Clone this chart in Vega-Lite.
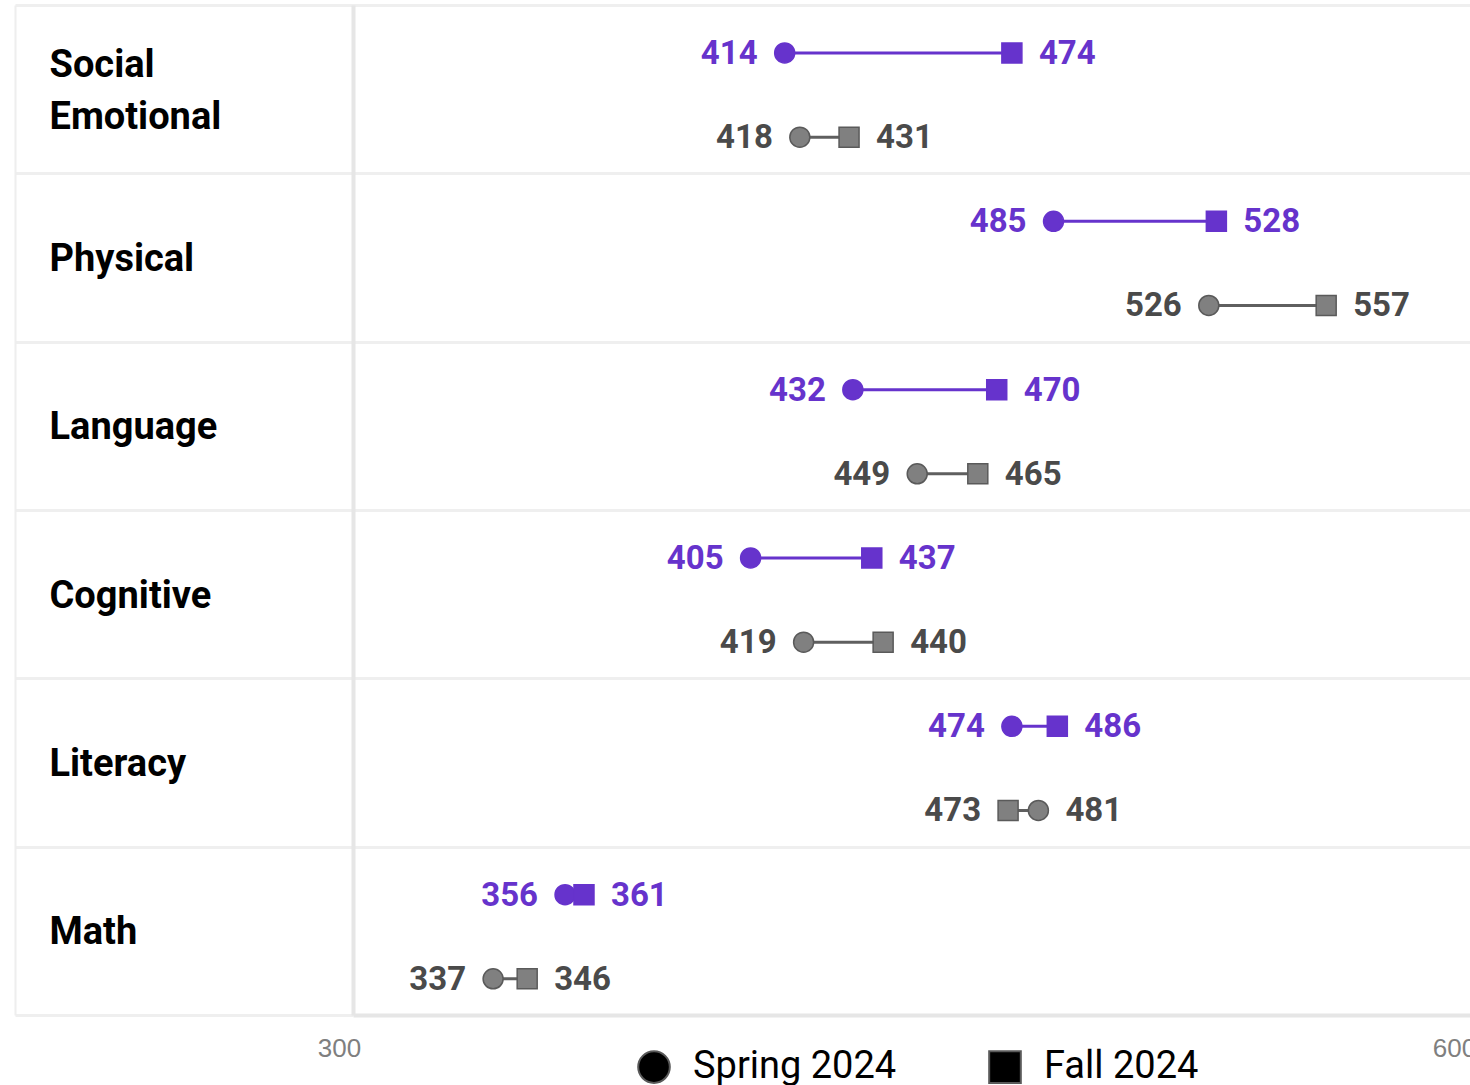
{
  "$schema": "https://vega.github.io/schema/vega-lite/v6.json",
  "width": 1136,
  "height": 1010,
  "padding": {"left": 353, "top": 5, "right": 0, "bottom": 75},
  "autosize": {"type": "none"},
  "background": "white",
  "config": {
    "view": {"stroke": "#eeeeee", "strokeWidth": 2},
    "font": "Roboto"
  },
  "data": {
    "values": [
      {"category": "Social Emotional", "group": "Group A", "season": "Spring 2024", "score": 414},
      {"category": "Social Emotional", "group": "Group A", "season": "Fall 2024", "score": 474},
      {"category": "Social Emotional", "group": "Group B", "season": "Spring 2024", "score": 418},
      {"category": "Social Emotional", "group": "Group B", "season": "Fall 2024", "score": 431},
      {"category": "Physical", "group": "Group A", "season": "Spring 2024", "score": 485},
      {"category": "Physical", "group": "Group A", "season": "Fall 2024", "score": 528},
      {"category": "Physical", "group": "Group B", "season": "Spring 2024", "score": 526},
      {"category": "Physical", "group": "Group B", "season": "Fall 2024", "score": 557},
      {"category": "Language", "group": "Group A", "season": "Spring 2024", "score": 432},
      {"category": "Language", "group": "Group A", "season": "Fall 2024", "score": 470},
      {"category": "Language", "group": "Group B", "season": "Spring 2024", "score": 449},
      {"category": "Language", "group": "Group B", "season": "Fall 2024", "score": 465},
      {"category": "Cognitive", "group": "Group A", "season": "Spring 2024", "score": 405},
      {"category": "Cognitive", "group": "Group A", "season": "Fall 2024", "score": 437},
      {"category": "Cognitive", "group": "Group B", "season": "Spring 2024", "score": 419},
      {"category": "Cognitive", "group": "Group B", "season": "Fall 2024", "score": 440},
      {"category": "Literacy", "group": "Group A", "season": "Spring 2024", "score": 474},
      {"category": "Literacy", "group": "Group A", "season": "Fall 2024", "score": 486},
      {"category": "Literacy", "group": "Group B", "season": "Spring 2024", "score": 481},
      {"category": "Literacy", "group": "Group B", "season": "Fall 2024", "score": 473},
      {"category": "Math", "group": "Group A", "season": "Spring 2024", "score": 356},
      {"category": "Math", "group": "Group A", "season": "Fall 2024", "score": 361},
      {"category": "Math", "group": "Group B", "season": "Spring 2024", "score": 337},
      {"category": "Math", "group": "Group B", "season": "Fall 2024", "score": 346}
    ]
  },
  "resolve": {"axis": {"y": "independent"}},
  "layer": [
    {
      "encoding": {
        "y": {
          "field": "category", "type": "nominal",
          "sort": ["Social Emotional", "Physical", "Language", "Cognitive", "Literacy", "Math"],
          "scale": {"paddingInner": 0, "paddingOuter": 0},
          "axis": {
            "title": null, "orient": "left",
            "tickBand": "extent", "tickSize": 338, "tickWidth": 3, "tickColor": "#efefef",
            "grid": true, "gridColor": "#efefef", "gridWidth": 3,
            "domain": true, "domainColor": "#e6e6e6", "domainWidth": 4,
            "labelAlign": "left", "labelBaseline": "middle", "labelPadding": -34,
            "labelFont": "Roboto", "labelFontWeight": "bold", "labelFontSize": 38,
            "labelColor": "black", "labelLineHeight": 52, "labelLimit": 400,
            "labelOffset": {"condition": {"test": "datum.label == 'Social Emotional'", "value": -24}, "value": 2},
            "labelExpr": "datum.label == 'Social Emotional' ? ['Social', 'Emotional'] : datum.label"
          }
        },
        "yOffset": {
          "field": "group", "type": "nominal",
          "scale": {"type": "point", "padding": 0.5, "align": 0.57, "domain": ["Group A", "Group B"]}
        }
      },
      "layer": [
        {
          "mark": {"type": "rule", "strokeWidth": 3},
          "encoding": {
            "x": {"aggregate": "min", "field": "score", "type": "quantitative", "title": null},
            "x2": {"aggregate": "max", "field": "score"},
            "color": {"condition": {"test": "datum.group == 'Group A'", "value": "#6633cc"}, "value": "#5f5f5f"}
          }
        },
        {
          "mark": {"type": "point", "filled": true, "size": 400, "strokeWidth": 1.5, "opacity": 1},
          "encoding": {
            "x": {
              "field": "score", "type": "quantitative", "title": null,
              "scale": {"domain": [300, 600], "nice": false, "zero": false},
              "axis": {
                "title": null, "values": [300, 600], "ticks": false, "grid": false,
                "domain": true, "domainColor": "#e6e6e6", "domainWidth": 4,
                "labelFont": "Liberation Sans", "labelFontSize": 26, "labelColor": "#7f7f7f",
                "labelPadding": 20, "labelFlush": false, "labelOverlap": false,
                "labelOffset": {"condition": {"test": "datum.value == 300", "value": -14}, "value": -35}
              }
            },
            "shape": {
              "field": "season", "type": "nominal",
              "scale": {"domain": ["Spring 2024", "Fall 2024"], "range": ["circle", "square"]},
              "legend": {
                "title": null, "orient": "none", "direction": "horizontal",
                "legendX": 282, "legendY": 1043,
                "symbolSize": 1000, "symbolStrokeWidth": 2,
                "symbolFillColor": "black", "symbolStrokeColor": "#595959",
                "labelFont": "Roboto", "labelFontSize": 38, "labelColor": "black",
                "labelOffset": 20, "columnPadding": 88, "labelLimit": 400,
                "encode": {"symbols": {"update": {"size": {"signal": "datum.value == 'Fall 2024' ? 676 : 1156"}}}}
              }
            },
            "color": {
              "field": "group", "type": "nominal",
              "scale": {"domain": ["Group A", "Group B"], "range": ["#6633cc", "#808080"]},
              "legend": null
            },
            "stroke": {"condition": {"test": "datum.group == 'Group A'", "value": "#6633cc"}, "value": "#5a5a5a"}
          }
        },
        {
          "mark": {"type": "text", "align": "right", "baseline": "middle", "dx": -27, "dy": 1, "fontSize": 33, "fontWeight": "bold", "font": "Roboto"},
          "encoding": {
            "x": {"aggregate": "min", "field": "score", "type": "quantitative", "title": null},
            "text": {"aggregate": "min", "field": "score", "type": "quantitative"},
            "color": {"condition": {"test": "datum.group == 'Group A'", "value": "#6633cc"}, "value": "#4a4a4a"}
          }
        }
      ]
    },
    {
      "mark": {"type": "text", "align": "left", "baseline": "middle", "dx": 27, "dy": 1, "fontSize": 33, "fontWeight": "bold", "font": "Roboto"},
      "encoding": {
        "y": {
          "field": "category", "type": "nominal",
          "sort": ["Social Emotional", "Physical", "Language", "Cognitive", "Literacy", "Math"],
          "axis": {
            "title": null, "orient": "left", "offset": 338,
            "labels": false, "ticks": false, "grid": false,
            "domain": true, "domainColor": "#eeeeee", "domainWidth": 2
          }
        },
        "yOffset": {"field": "group", "type": "nominal"},
        "x": {"aggregate": "max", "field": "score", "type": "quantitative", "title": null},
        "text": {"aggregate": "max", "field": "score", "type": "quantitative"},
        "color": {"condition": {"test": "datum.group == 'Group A'", "value": "#6633cc"}, "value": "#4a4a4a"}
      }
    }
  ]
}
